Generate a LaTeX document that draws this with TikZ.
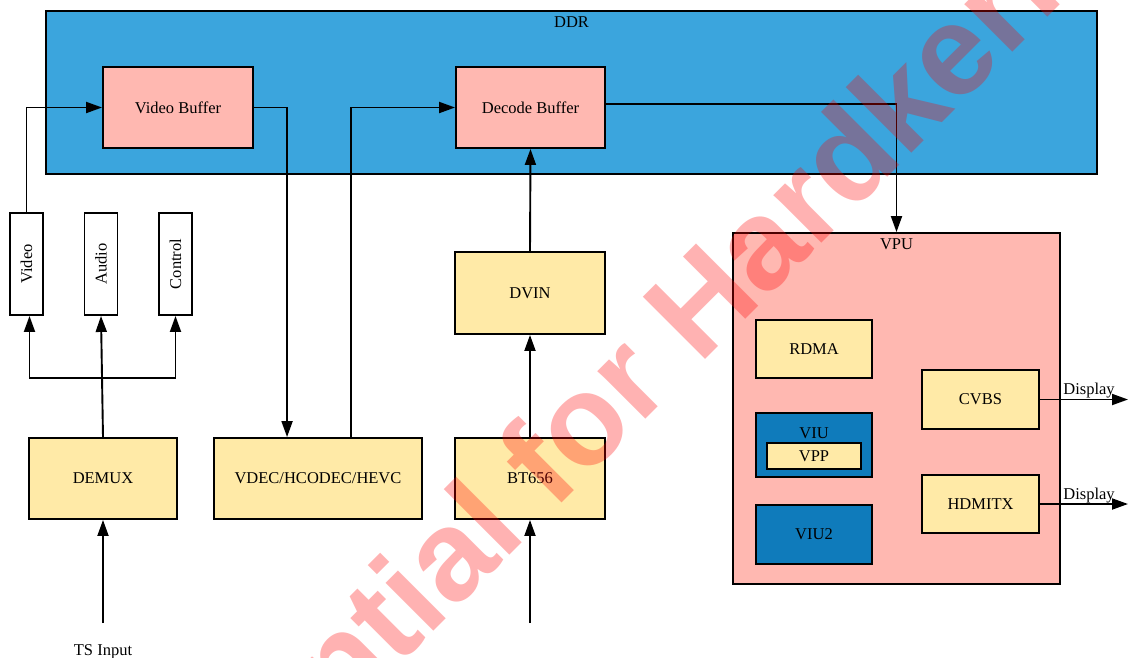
\documentclass[tikz,border=0pt]{standalone}
\usepackage{fontspec}
\setmainfont{Liberation Serif}
\newfontfamily\wmfont{Liberation Sans}
\usetikzlibrary{arrows.meta}
\definecolor{ddrblue}{HTML}{3BA5DD}
\definecolor{bufpink}{HTML}{FFB8B1}
\definecolor{blkyellow}{HTML}{FFEAA7}
\definecolor{viublue}{HTML}{0F7BBB}
\begin{document}
\begin{tikzpicture}[x=1pt,y=-1pt,font=\fontsize{16.5}{19}\selectfont,
  blk/.style={draw, line width=1.9pt, inner sep=0pt, align=center},
  conn/.style={line width=1.9pt},
  arr/.style={line width=1.9pt, -{Triangle[length=16pt,width=11pt]}},
  lbl/.style={inner sep=0pt, anchor=base}]
\useasboundingbox[fill=white] (0,0) rectangle (1129,657);

% DDR
\node[blk, fill=ddrblue, minimum width=1051pt, minimum height=163pt,
  label={[anchor=center, yshift=-12pt]north:DDR}] (ddr) at (571.5,92.5) {};
\node[blk, fill=bufpink, minimum width=150pt, minimum height=81pt] (vbuf) at (178,107.5) {Video Buffer};
\node[blk, fill=bufpink, minimum width=149pt, minimum height=81pt] (dbuf) at (530.5,107.5) {Decode Buffer};

% streams
\node[blk, fill=white, minimum width=33pt, minimum height=102pt] (video) at (26.5,264) {\rotatebox{90}{Video}};
\node[blk, fill=white, minimum width=33pt, minimum height=102pt] (audio) at (101,264) {\rotatebox{90}{Audio}};
\node[blk, fill=white, minimum width=33pt, minimum height=102pt] (control) at (175.5,264) {\rotatebox{90}{Control}};

% lower blocks
\node[blk, fill=blkyellow, minimum width=148pt, minimum height=81pt] (demux) at (103,478.5) {DEMUX};
\node[blk, fill=blkyellow, minimum width=208pt, minimum height=81pt] (vdec) at (318,478.5) {VDEC/HCODEC/HEVC};
\node[blk, fill=blkyellow, minimum width=150pt, minimum height=82pt] (dvin) at (530,293) {DVIN};
\node[blk, fill=blkyellow, minimum width=150pt, minimum height=81pt] (bt656) at (530,478.5) {BT656};

% VPU
\node[blk, fill=bufpink, minimum width=327pt, minimum height=351pt,
  label={[anchor=center, yshift=-12pt]north:VPU}] (vpu) at (896.5,408.5) {};
\node[blk, fill=blkyellow, minimum width=116pt, minimum height=58pt] (rdma) at (814,349) {RDMA};
\node[blk, fill=viublue, minimum width=116pt, minimum height=64pt,
  label={[anchor=center, yshift=-21pt]north:VIU}] (viu) at (814,445) {};
\node[blk, fill=blkyellow, minimum width=94pt, minimum height=26pt] (vpp) at (814,456) {VPP};
\node[blk, fill=viublue, minimum width=116pt, minimum height=59pt] (viu2) at (814,534.5) {VIU2};
\node[blk, fill=blkyellow, minimum width=117pt, minimum height=59pt] (cvbs) at (980.5,399.5) {CVBS};
\node[blk, fill=blkyellow, minimum width=117pt, minimum height=58pt] (hdmitx) at (980.5,504) {HDMITX};

% inputs / outputs
\node[lbl] (ts) at (103,655) {TS Input};
\coordinate (tsin) at (103,623);
\coordinate (btin) at (530,623);
\coordinate (fork) at (103,378);
\coordinate (out1) at (1128,400);
\coordinate (out2) at (1128,504);
\node[lbl] (disp1) at (1089,394) {Display};
\node[lbl] (disp2) at (1089,499) {Display};

% connectors
\draw[arr] (video.north) |- (vbuf.west);
\draw[arr] (vbuf.east) -| ([xshift=74pt]vdec.north west);
\draw[arr] ([xshift=138pt]vdec.north west) |- (dbuf.west);
\draw[arr] ([yshift=3.5pt]dbuf.east) -| (vpu.north);
\draw[arr] (dvin.north) -- (dbuf.south);
\draw[arr] (bt656.north) -- (dvin.south);
\draw[arr] (btin) -- (bt656.south);
\draw[arr] (tsin) -- (demux.south);
\draw[arr] (demux.north) -- (audio.south);
\draw[arr] (fork) -| ([xshift=3pt]video.south);
\draw[arr] (fork) -| (control.south);
\draw[arr] (cvbs.east) -- (cvbs.east -| out1);
\draw[arr] (hdmitx.east) -- (hdmitx.east -| out2);

% watermark
\begin{scope}
\clip (0,0) rectangle (1129,657);
\node[rotate=45, anchor=base, inner sep=0pt, text=red, text opacity=0.3,
  font=\wmfont\bfseries\fontsize{128}{130}\selectfont] (wm) at (589,476) {Confidential for Hardkernel};
\end{scope}
\end{tikzpicture}
\end{document}
